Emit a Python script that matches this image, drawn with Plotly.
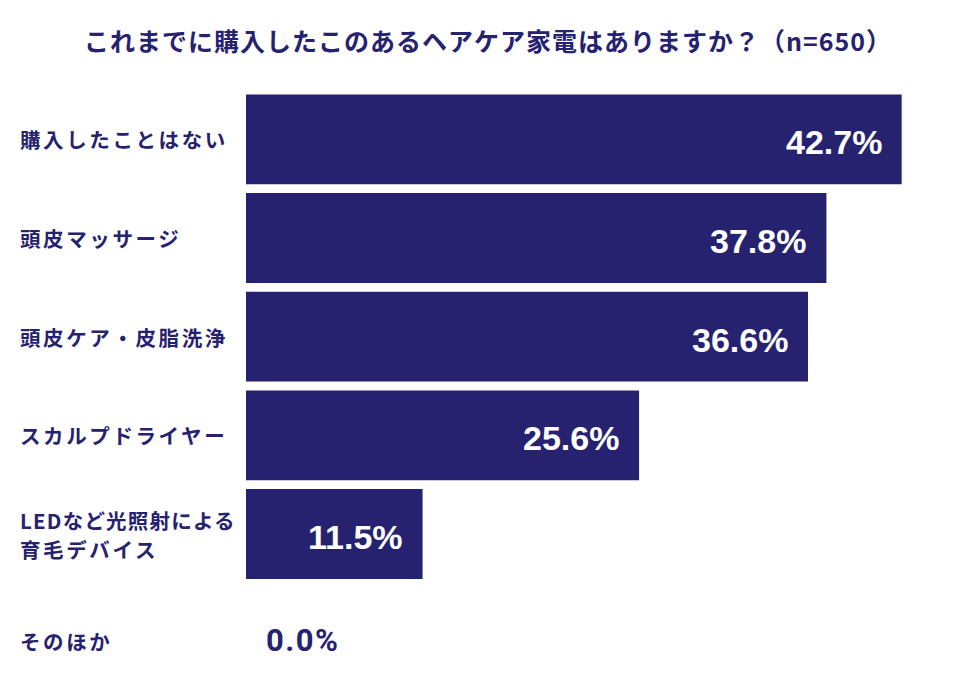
import plotly.graph_objects as go

categories = [
    "購入したことはない",
    "頭皮マッサージ",
    "頭皮ケア・皮脂洗浄",
    "スカルプドライヤー",
    "LEDなど光照射による<br>育毛デバイス",
    "そのほか",
]
values = [42.7, 37.8, 36.6, 25.6, 11.5, 0.0]
title_text = "これまでに購入したこのあるヘアケア家電はありますか？（n=650）"

NAVY = "#262270"
FONT = "Noto Sans CJK JP"


def spaced(text, px):
    return f'<span style="letter-spacing:{px}px">{text}</span>'


fig = go.Figure(
    go.Bar(
        x=values,
        y=categories,
        orientation="h",
        marker=dict(color=NAVY, line=dict(width=0)),
        width=0.91,
        hoverinfo="skip",
    )
)

# category labels on the left, value labels at bar ends
for cat, val in zip(categories, values):
    shift = -8 if val == 0 else 0
    lines = cat.split("<br>")
    for j, line in enumerate(lines):
        # lines with latin letters get tighter spacing so they clear the bar
        ls = 1.2 if any(c.isascii() for c in line) else 2.6
        fig.add_annotation(
            x=-0.330, xref="paper", y=cat, yref="y",
            text=f"<b>{spaced(line, ls)}</b>", showarrow=False,
            xanchor="left", align="left",
            yshift=shift + (len(lines) - 1) * 14.5 - j * 29,
            font=dict(family=FONT, size=20.5, color=NAVY),
        )
    if val > 0:
        fig.add_annotation(
            x=val, y=cat, text=f"<b>{val:.1f}%</b>", showarrow=False,
            xanchor="right", xshift=-18, yshift=-3,
            font=dict(family="Liberation Sans", size=34, color="white"),
        )
    else:
        fig.add_annotation(
            x=val, y=cat, text=f"<b>{spaced(f'{val:.1f}%', 1.5)}</b>", showarrow=False,
            xanchor="left", xshift=18, yshift=shift,
            font=dict(family="Roboto", size=31, color=NAVY),
        )

fig.update_layout(
    width=960,
    height=700,
    margin=dict(l=238, r=31, t=82, b=26),
    paper_bgcolor="white",
    plot_bgcolor="white",
    showlegend=False,
    title=dict(
        text=f"<b>{spaced(title_text, 1)}</b>",
        x=0.5, xref="container", xanchor="center",
        y=0.951, yref="container", yanchor="middle",
        font=dict(family=FONT, size=25, color=NAVY),
    ),
    xaxis=dict(range=[0, 45], visible=False, fixedrange=True),
    yaxis=dict(
        autorange="reversed", showticklabels=False, showgrid=False,
        zeroline=False, showline=False, fixedrange=True,
    ),
)

fig.write_html("out.html")
